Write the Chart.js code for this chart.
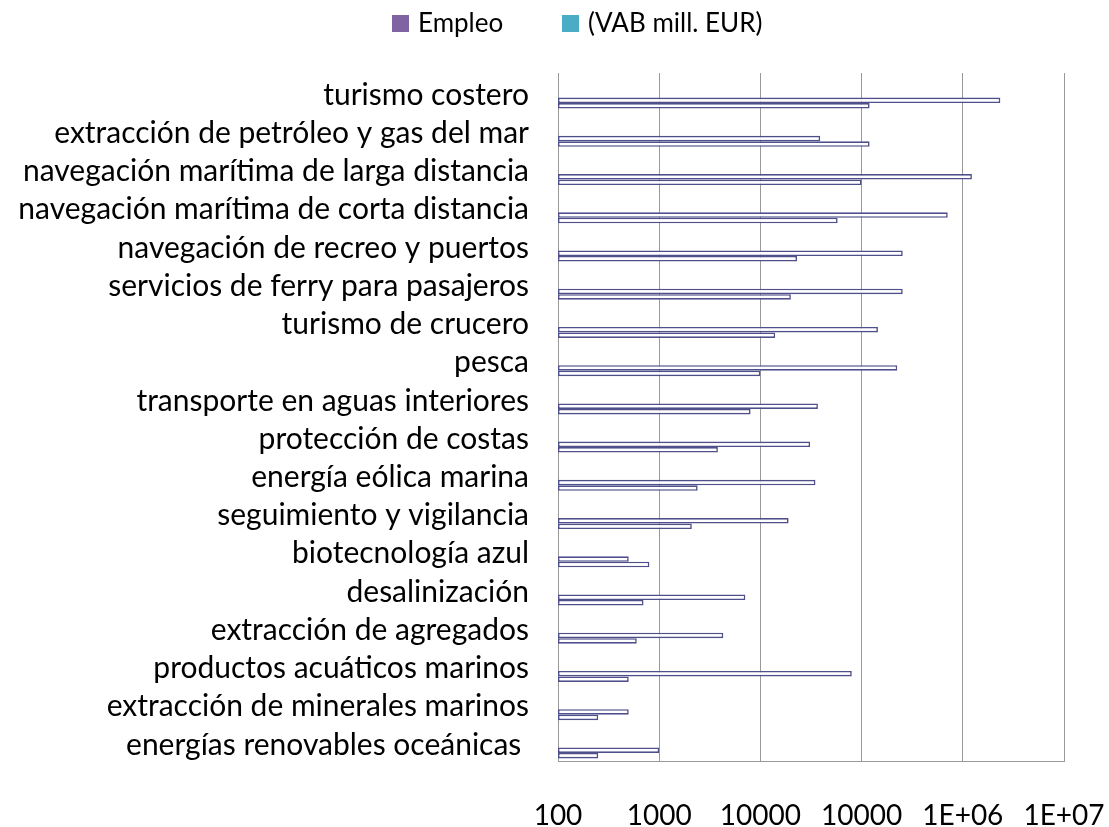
<!DOCTYPE html>
<html>
<head>
<meta charset="utf-8">
<script src="https://cdn.jsdelivr.net/npm/chart.js@4.4.1/dist/chart.umd.min.js"></script>
<style>
  body { margin: 0; background: #fff; }
  #wrap { position: relative; width: 1109px; height: 827px; }
  .item { position: absolute; top: 6px; font: 26px Lato, sans-serif; color: #000; white-space: nowrap; }
  .box { display: inline-block; width: 17px; height: 17px; margin-right: 9px; vertical-align: 0px; }
</style>
</head>
<body>
<div id="wrap">
  <canvas id="Sector-Chart" width="1109" height="827"></canvas>
  <span class="item" style="left:392px"><span class="box" style="background:#8064A2"></span>Empleo</span>
  <span class="item" style="left:562px"><span class="box" style="background:#4BACC6"></span>(VAB mill. EUR)</span>
</div>
<script>
const sectores = [
  "turismo costero",
  "extracción de petróleo y gas del mar",
  "navegación marítima de larga distancia",
  "navegación marítima de corta distancia",
  "navegación de recreo y puertos",
  "servicios de ferry para pasajeros",
  "turismo de crucero",
  "pesca",
  "transporte en aguas interiores",
  "protección de costas",
  "energía eólica marina",
  "seguimiento y vigilancia",
  "biotecnología azul",
  "desalinización",
  "extracción de agregados",
  "productos acuáticos marinos",
  "extracción de minerales marinos",
  "energías renovables oceánicas "
];

const empleo = [2350000, 39000, 1230000, 710000, 255000, 255000, 145000, 225000, 37000,
  31000, 35000, 19000, 500, 7100, 4300, 80000, 500, 1000];
const vab = [120000, 120000, 100000, 58000, 23000, 20000, 14000, 10000, 8000,
  3800, 2400, 2100, 800, 700, 600, 500, 250, 250];

const tickValues = [100, 1000, 10000, 100000, 1000000, 10000000];
const tickLabels = ["100", "1000", "10000", "10000", "1E+06", "1E+07"];

const barStyle = {
  backgroundColor: "#FFFFFF",
  borderColor: "#4F4F8C",
  borderWidth: 1.6,
  borderSkipped: false,
  barPercentage: 1,
  categoryPercentage: 0.863
};

// empty series that keep the two real bars in the lower part of each row
const spacers = [1, 2, 3, 4].map(n => ({ label: "", data: [] }));

const data = {
  labels: sectores,
  datasets: [
    ...spacers,
    { label: "Empleo", data: empleo, ...barStyle },
    { label: "(VAB mill. EUR)", data: vab, ...barStyle }
  ]
};

const config = {
  type: "bar",
  data: data,
  options: {
    indexAxis: "y",
    responsive: false,
    animation: false,
    devicePixelRatio: 1,
    layout: { padding: { top: 73, right: 45, bottom: 0, left: 0 } },
    plugins: {
      legend: { display: false },
      tooltip: { enabled: false }
    },
    scales: {
      x: {
        type: "logarithmic",
        min: 100,
        max: 10000000,
        afterBuildTicks: scale => {
          scale.ticks = tickValues.map(v => ({ value: v }));
        },
        afterFit: scale => {
          scale.height = 66;
          scale.paddingLeft = 0;
          scale.paddingRight = 0;
        },
        grid: { color: "#999999", lineWidth: 1, drawTicks: false },
        border: { display: true, color: "#999999" },
        ticks: {
          padding: 38,
          color: "#000",
          font: { family: "Lato", size: 28 },
          maxRotation: 0,
          autoSkip: false,
          callback: (value, index) => tickLabels[index]
        }
      },
      y: {
        afterFit: scale => { scale.width = 558; },
        grid: { display: false, drawTicks: false },
        border: { display: true, color: "#999999" },
        ticks: {
          padding: 29,
          labelOffset: 3,
          color: "#000",
          font: { family: "Lato", size: 30 },
          autoSkip: false
        }
      }
    }
  }
};

let myChart = new Chart(document.getElementById("Sector-Chart"), config);
</script>
</body>
</html>
